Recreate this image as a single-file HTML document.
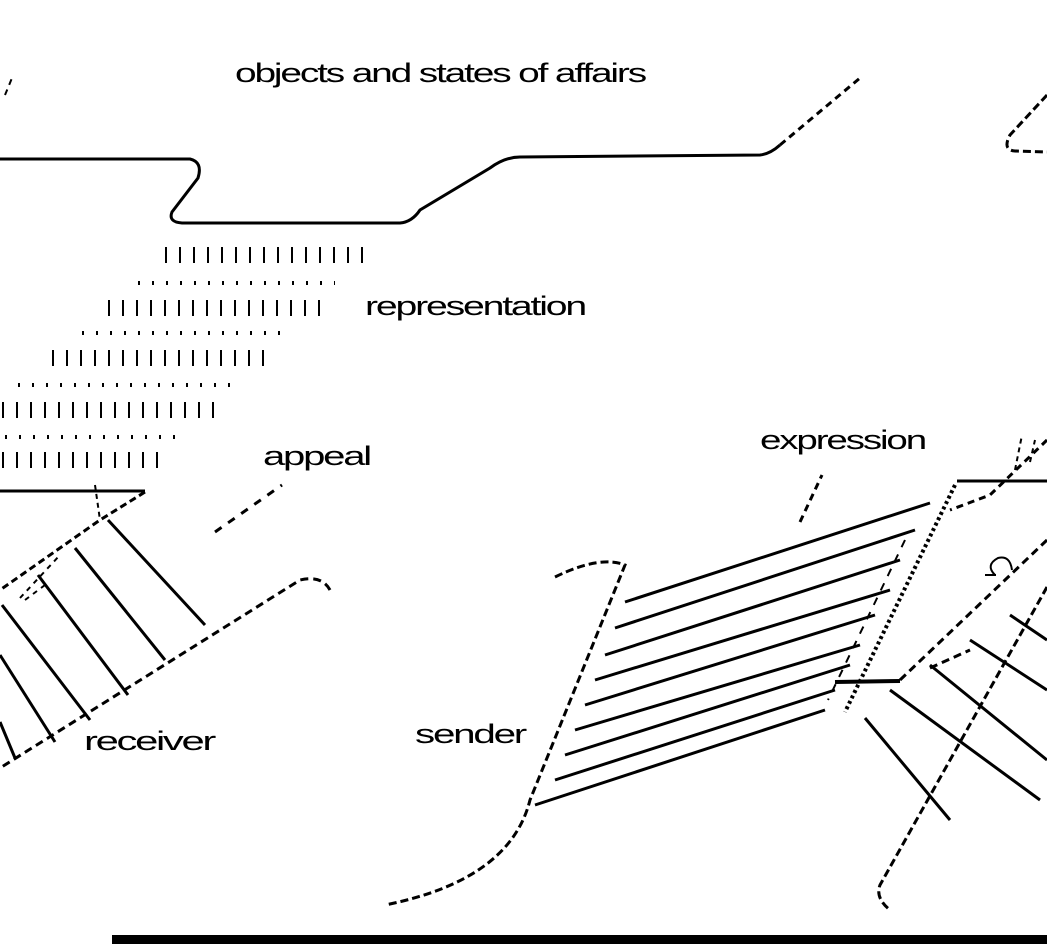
<!DOCTYPE html>
<html><head><meta charset="utf-8"><style>
html,body{margin:0;padding:0;background:#fff;width:1047px;height:944px;overflow:hidden}
svg{display:block}
text{font-family:"Liberation Sans",sans-serif;font-size:27px;fill:#000;letter-spacing:-1.5px}
</style></head><body>
<svg width="1047" height="944" viewBox="0 0 1047 944" xmlns="http://www.w3.org/2000/svg">
<g fill="none" stroke="#000" stroke-linecap="butt">
<!-- top stepped line -->
<path d="M0 159 L190 159 Q203 162 198 178 L172 212 Q168 222 182 223 L400 223 Q412 222 420 210 L490 168 Q505 157 520 157 L760 155 Q770 154 780 145" stroke-width="3"/>
<path d="M780 145 L860 78" stroke-width="3" stroke-dasharray="7 5"/>
<path d="M5 95 L12 78" stroke-width="2" stroke-dasharray="6 5"/>
<path d="M1047 95 L1010 135 Q1002 150 1015 151 L1047 152" stroke-width="3" stroke-dasharray="8 4"/>
<!-- dotted rows -->
<g stroke-width="2" stroke-dasharray="2 12">
<path d="M165 255 L370 255" stroke-width="16"/>
<path d="M138 283 L335 283" stroke-width="4"/>
<path d="M108 308 L320 308" stroke-width="16"/>
<path d="M82 333 L290 333" stroke-width="4"/>
<path d="M52 358 L270 358" stroke-width="16"/>
<path d="M18 385 L240 385" stroke-width="4"/>
<path d="M2 410 L215 410" stroke-width="16"/>
<path d="M5 437 L180 437" stroke-width="4"/>
<path d="M2 460 L160 460" stroke-width="16"/>
</g>
<!-- left diagram -->
<path d="M0 491 L145 491" stroke-width="3"/>
<path d="M145 492 L100 520 L0 590" stroke-width="3" stroke-dasharray="7 4"/>
<path d="M95 485 L100 520" stroke-width="2" stroke-dasharray="5 4"/>
<path d="M330 590 Q322 575 300 580 L0 768" stroke-width="3" stroke-dasharray="8 5"/>
<path d="M215 532 L282 485" stroke-width="3" stroke-dasharray="8 8"/>
<g stroke-width="3">
<path d="M108 520 L205 625"/>
<path d="M75 548 L165 660"/>
<path d="M38 575 L128 695"/>
<path d="M2 605 L90 720"/>
<path d="M0 655 L55 742"/>
<path d="M0 722 L15 758"/>
</g>
<path d="M25 600 L45 585 M20 598 L60 555" stroke-width="2" stroke-dasharray="5 5"/>
<!-- middle sender -->
<path d="M555 577 Q600 555 625 565 L530 800 Q510 880 385 905" stroke-width="3" stroke-dasharray="8 4"/>
<g stroke-width="3">
<path d="M625 602 L930 503"/>
<path d="M615 628 L915 530"/>
<path d="M605 655 L900 560"/>
<path d="M595 680 L890 590"/>
<path d="M585 705 L875 615"/>
<path d="M575 730 L860 645"/>
<path d="M565 755 L850 665"/>
<path d="M555 780 L835 690"/>
<path d="M535 805 L825 710"/>
</g>
<path d="M955 485 L845 712" stroke-width="4" stroke-dasharray="3 3"/>
<path d="M905 540 L828 700" stroke-width="2" stroke-dasharray="8 8"/>
<path d="M800 522 L822 475" stroke-width="3" stroke-dasharray="7 5"/>
<!-- right -->
<path d="M957 481 L1047 481" stroke-width="3"/>
<path d="M1047 440 L990 495 L950 510" stroke-width="3" stroke-dasharray="7 5"/>
<path d="M1015 470 L1022 435 M1030 462 L1035 440" stroke-width="2" stroke-dasharray="5 4"/>
<path d="M1047 587 L880 885 Q875 898 890 910" stroke-width="3" stroke-dasharray="8 4"/>
<path d="M1047 540 L900 680" stroke-width="3" stroke-dasharray="8 5"/>
<path d="M835 682 L900 681" stroke-width="4"/>
<path d="M930 668 L970 650" stroke-width="3" stroke-dasharray="8 5"/>
<g stroke-width="3">
<path d="M890 690 L1040 800"/>
<path d="M930 665 L1047 760"/>
<path d="M970 640 L1047 690"/>
<path d="M1010 615 L1047 640"/>
<path d="M865 718 L950 820"/>
</g>
<path d="M995 575 Q985 565 998 558 Q1010 555 1012 570 M985 575 L996 575" stroke-width="2"/>
</g>
<rect x="112" y="935" width="935" height="9" fill="#000"/>
<text x="235" y="82" textLength="410" lengthAdjust="spacingAndGlyphs">objects and states of affairs</text>
<text x="365" y="315" textLength="220" lengthAdjust="spacingAndGlyphs">representation</text>
<text x="263" y="465" textLength="107" lengthAdjust="spacingAndGlyphs">appeal</text>
<text x="760" y="449" textLength="165" lengthAdjust="spacingAndGlyphs">expression</text>
<text x="84" y="750" textLength="130" lengthAdjust="spacingAndGlyphs">receiver</text>
<text x="415" y="743" textLength="110" lengthAdjust="spacingAndGlyphs">sender</text>
</svg>
</body></html>
